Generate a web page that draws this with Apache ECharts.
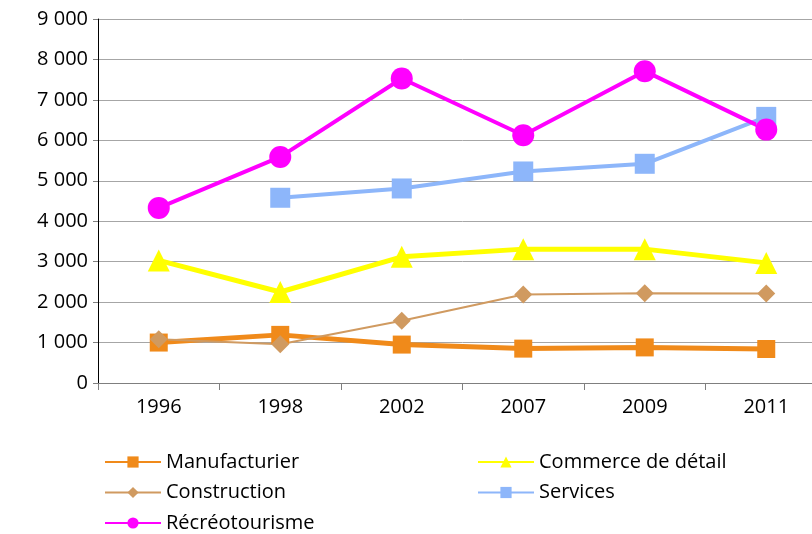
<!DOCTYPE html>
<html>
<head>
<meta charset="utf-8">
<script src="https://cdn.jsdelivr.net/npm/echarts@6/dist/echarts.min.js"></script>
<style>
  html, body { margin: 0; padding: 0; background: #fff; overflow: hidden; }
  #chart { width: 830px; height: 534px; }
</style>
</head>
<body>
<div id="chart"></div>
<script>
const years = ['1996', '1998', '2002', '2007', '2009', '2011'];
const manufacturier = [1000, 1190, 950, 850, 880, 840];
const commerce = [3030, 2250, 3120, 3310, 3310, 2970];
const construction = [1080, 960, 1540, 2190, 2220, 2210];
const services = [null, 4580, 4810, 5230, 5420, 6580];
const recreo = [4330, 5590, 7530, 6125, 7710, 6265];

const font = "'Open Sans', 'DejaVu Sans', sans-serif";

function fmt(v) {
  return String(v).replace(/\B(?=(\d{3})+(?!\d))/g, ' ');
}

function line(name, data, color, width, symbol, size) {
  return {
    name: name,
    type: 'line',
    data: data,
    symbol: symbol,
    symbolSize: size,
    showAllSymbol: true,
    connectNulls: false,
    animation: false,
    lineStyle: { color: color, width: width },
    itemStyle: { color: color }
  };
}

// the plot runs a little past the right edge of the picture, so the chart div is wider than the page
const chart = echarts.init(document.getElementById('chart'));
const legendText = { fontFamily: font, fontSize: 20, color: '#000' };
chart.setOption({
  grid: { left: 98, right: 3, top: 19, bottom: 151 },
  legend: [
    {
      data: ['Manufacturier', 'Construction', 'Récréotourisme'],
      orient: 'vertical', left: 104, top: 452, height: 100, itemGap: 10.5, padding: 0,
      itemWidth: 56, itemHeight: 14, textStyle: legendText
    },
    {
      data: ['Commerce de détail', 'Services'],
      orient: 'vertical', left: 477, top: 452, height: 100, itemGap: 10.5, padding: 0,
      itemWidth: 56, itemHeight: 14, textStyle: legendText
    }
  ],
  xAxis: {
    type: 'category',
    data: years,
    boundaryGap: true,
    axisLine: { lineStyle: { color: '#7f7f7f', width: 1 } },
    axisTick: { show: true, length: 7, lineStyle: { color: '#7f7f7f' } },
    axisLabel: { fontFamily: font, fontSize: 20, color: '#000', margin: 14 }
  },
  yAxis: {
    type: 'value',
    min: 0, max: 9000, interval: 1000,
    axisLine: { show: true, lineStyle: { color: '#000', width: 1 } },
    axisTick: { show: true, length: 5, lineStyle: { color: '#7f7f7f' } },
    splitLine: { lineStyle: { color: '#a6a6a6', width: 1 } },
    axisLabel: { fontFamily: font, fontSize: 20, color: '#000', margin: 10, formatter: fmt }
  },
  series: [
    line('Manufacturier', manufacturier, '#F08A1A', 5, 'rect', 18),
    line('Commerce de détail', commerce, '#FFFF00', 5, 'triangle', 22),
    line('Construction', construction, '#D09A60', 2, 'diamond', 18),
    line('Services', services, '#8DB6FA', 4, 'rect', 20),
    line('Récréotourisme', recreo, '#FF00FF', 4, 'circle', 22)
  ]
});
</script>
</body>
</html>
